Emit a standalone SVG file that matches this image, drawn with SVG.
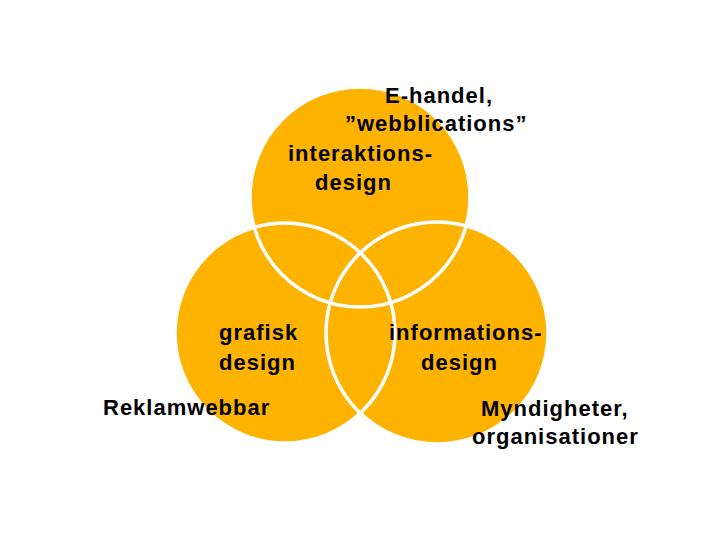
<svg xmlns="http://www.w3.org/2000/svg" width="720" height="540" viewBox="0 0 720 540">
<style>
.c{fill:#FDB300}
.o{fill:none;stroke:#FFFFFF;stroke-width:3.5}
text{font-family:"Liberation Sans",Arial,sans-serif;font-weight:bold;font-size:22px;letter-spacing:1px;fill:#000}
</style>
<rect width="720" height="540" fill="#fff"/>
<g id="fills">
<circle class="c" cx="360" cy="197" r="110"/>
<circle class="c" cx="285" cy="333" r="110"/>
<circle class="c" cx="437" cy="333" r="111"/>
</g>
<g id="outlines">
<circle class="o" cx="360" cy="197" r="110"/>
<circle class="o" cx="285" cy="333" r="110"/>
<circle class="o" cx="437" cy="333" r="111"/>
</g>
<g id="top">
<text x="385" y="103">E-handel,</text>
<text x="345" y="131">”webblications”</text>
<text x="288" y="161">interaktions-</text>
<text x="315" y="190">design</text>
</g>
<g id="left">
<text x="219" y="340">grafisk</text>
<text x="219" y="370">design</text>
<text x="103" y="415">Reklamwebbar</text>
</g>
<g id="right">
<text x="389" y="340">informations-</text>
<text x="421" y="370">design</text>
<text x="481" y="416">Myndigheter,</text>
<text x="472" y="444">organisationer</text>
</g>
</svg>
